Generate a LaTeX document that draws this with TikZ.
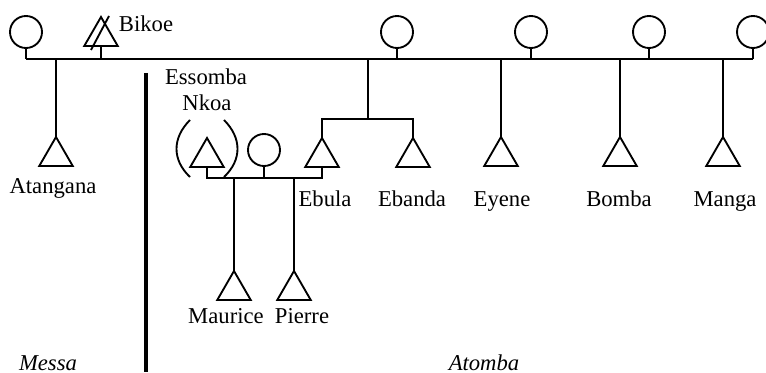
\documentclass[tikz,border=0pt]{standalone}
\usepackage{fontspec}
\setmainfont{Liberation Serif}
\usetikzlibrary{shapes,arrows,positioning}
\tikzstyle{male}=[draw,regular polygon,regular polygon sides=3,minimum size=29pt,inner sep=0pt,outer sep=0pt,anchor=corner 1]
\tikzstyle{female}=[draw,circle,minimum size=24pt,inner sep=0pt,outer sep=0pt]
\tikzstyle{pname}=[font=\fontsize{17}{20}\selectfont,inner sep=0pt,anchor=base]
\tikzstyle{clan}=[font=\fontsize{17}{20}\selectfont\itshape,inner sep=0pt,anchor=base]

\begin{document}
\begin{tikzpicture}[x=0.75pt,y=-0.75pt,line width=1.4pt]
  \useasboundingbox (0,0) rectangle (766,373);

  % persons
  \foreach \name/\x in {W1/26, W2/397, W3/531, W4/649, W5/753}
    \node[female] (P-\name) at (\x,32) {};
  \node[male] (P-Bikoe) at (101,17) {};
  \foreach \name/\x/\y in {Atangana/56/137, Essomba/207/138, Ebula/322/138, Ebanda/413/138, Eyene/501/137, Bomba/620/137, Manga/723/137, Maurice/234/271, Pierre/294/271}
    \node[male] (P-\name) at (\x,\y) {};
  \node[female] (P-Wife) at (264,150) {};

  % top line
  \coordinate (T-l) at (26,59);
  \coordinate (T-r) at (753,59);
  \draw (T-l) -- (T-r);
  \foreach \name in {W1,W2,W3,W4,W5}
    \draw (P-\name.south) -- (P-\name.south |- T-l);
  \draw (P-Bikoe.side 2) -- (P-Bikoe.side 2 |- T-l);
  \draw (91,50) -- (109,16);
  \foreach \name in {Atangana,Eyene,Bomba,Manga}
    \draw (P-\name.corner 1) -- (P-\name.corner 1 |- T-l);

  % Ebula and Ebanda
  \coordinate (S-bar) at (368,119);
  \draw (S-bar |- T-l) -- (S-bar);
  \draw (P-Ebula.corner 1) |- (S-bar) -| (P-Ebanda.corner 1);

  % marriage line and children
  \coordinate (M) at (0,178);
  \draw (P-Essomba.side 2) |- (P-Ebula.side 2 |- M) -- (P-Ebula.side 2);
  \draw (P-Wife.south) -- (P-Wife.south |- M);
  \draw (P-Maurice.corner 1) -- (P-Maurice.corner 1 |- M);
  \draw (P-Pierre.corner 1) -- (P-Pierre.corner 1 |- M);

  % brackets round Essomba
  \draw (190,120) .. controls (172,138) and (172,160) .. (190,177);
  \draw (224,120) .. controls (242,138) and (242,160) .. (224,177);

  \draw[line width=3.6pt] (146,73) -- (146,372);

  % labels
  \node[pname,anchor=base west] (L-Bikoe) at (118,32) {Bikoe};
  \node[pname] (L-Essomba) at (206,85) {Essomba};
  \node[pname] (L-Nkoa) at (207,111) {Nkoa};
  \node[pname] (L-Atangana) at (53,194) {Atangana};
  \foreach \name/\x in {Ebula/325, Ebanda/412, Eyene/502, Bomba/619, Manga/725}
    \node[pname] (L-\name) at (\x,207) {\name};
  \node[pname] (L-Maurice) at (226,324) {Maurice};
  \node[pname] (L-Pierre) at (302,324) {Pierre};
  \node[clan] (L-Messa) at (48,370) {Messa};
  \node[clan] (L-Atomba) at (484,370) {Atomba};

\end{tikzpicture}
\end{document}
